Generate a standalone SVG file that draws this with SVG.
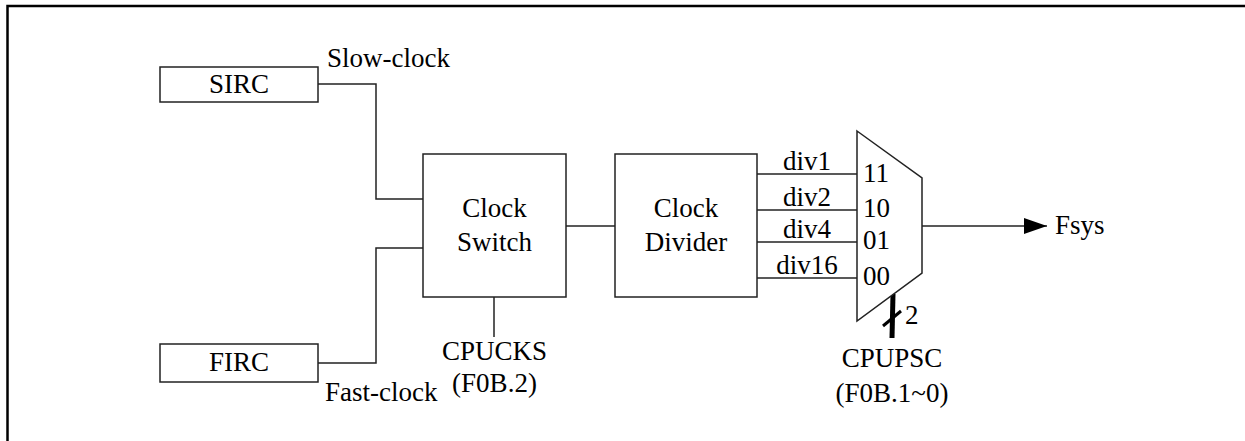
<svg xmlns="http://www.w3.org/2000/svg" width="1245" height="441" viewBox="0 0 1245 441">
<style>
text{font-family:"Liberation Serif","Times New Roman",serif;font-size:27px;fill:#000}
.box{fill:#fff;stroke:#222;stroke-width:1.5}
.ln{fill:none;stroke:#222;stroke-width:1.5}
.c{text-anchor:middle}
</style>
<defs>
<marker id="arr" viewBox="0 0 23 16" refX="23" refY="8" markerWidth="23" markerHeight="16" markerUnits="userSpaceOnUse" orient="auto">
<path d="M0,0 L23,8 L0,16 Z" fill="#000"/>
</marker>
</defs>
<rect width="1245" height="441" fill="#fff"/>
<polyline points="7.5,441 7.5,6 1245,6" fill="none" stroke="#000" stroke-width="2.5"/>
<g id="connectors">
<polyline class="ln" points="318,84 376,84 376,199 423,199"/>
<polyline class="ln" points="318,363 376,363 376,248 423,248"/>
<line class="ln" x1="566" y1="226" x2="615" y2="226"/>
<line class="ln" x1="494" y1="297" x2="494" y2="337"/>
<line class="ln" x1="757" y1="174" x2="857" y2="174"/>
<line class="ln" x1="757" y1="210" x2="857" y2="210"/>
<line class="ln" x1="757" y1="242" x2="857" y2="242"/>
<line class="ln" x1="757" y1="278" x2="857" y2="278"/>
<line class="ln" x1="922" y1="226" x2="1047" y2="226" marker-end="url(#arr)"/>
<line x1="893" y1="294" x2="892" y2="338" stroke="#000" stroke-width="5"/>
<line x1="883" y1="326" x2="901" y2="311" stroke="#000" stroke-width="3"/>
<text x="905" y="324">2</text>
<text x="807" y="170" class="c">div1</text>
<text x="807" y="206" class="c">div2</text>
<text x="807" y="238" class="c">div4</text>
<text x="807" y="274" class="c">div16</text>
</g>
<g id="sirc">
<rect class="box" x="160" y="67" width="158" height="35"/>
<text x="239" y="93" class="c">SIRC</text>
<text x="327" y="67">Slow-clock</text>
</g>
<g id="firc">
<rect class="box" x="160" y="344" width="158" height="38"/>
<text x="239" y="371" class="c">FIRC</text>
<text x="325" y="401">Fast-clock</text>
</g>
<g id="clock-switch">
<rect class="box" x="423" y="154" width="143" height="143"/>
<text x="494.5" y="217" class="c">Clock</text>
<text x="494.5" y="251" class="c">Switch</text>
</g>
<g id="cpucks">
<text x="494.5" y="360" class="c">CPUCKS</text>
<text x="494.5" y="392" class="c">(F0B.2)</text>
</g>
<g id="clock-divider">
<rect class="box" x="615" y="154" width="142" height="143"/>
<text x="686" y="217" class="c">Clock</text>
<text x="686" y="251" class="c">Divider</text>
</g>
<g id="mux">
<polygon class="box" points="857,131 922,178 922,273 857,321"/>
<text x="863" y="182">11</text>
<text x="863" y="217">10</text>
<text x="863" y="249">01</text>
<text x="863" y="285">00</text>
</g>
<g id="cpupsc">
<text x="892" y="367" class="c">CPUPSC</text>
<text x="892" y="402" class="c">(F0B.1~0)</text>
</g>
<g id="fsys">
<text x="1055" y="234">Fsys</text>
</g>
</svg>
